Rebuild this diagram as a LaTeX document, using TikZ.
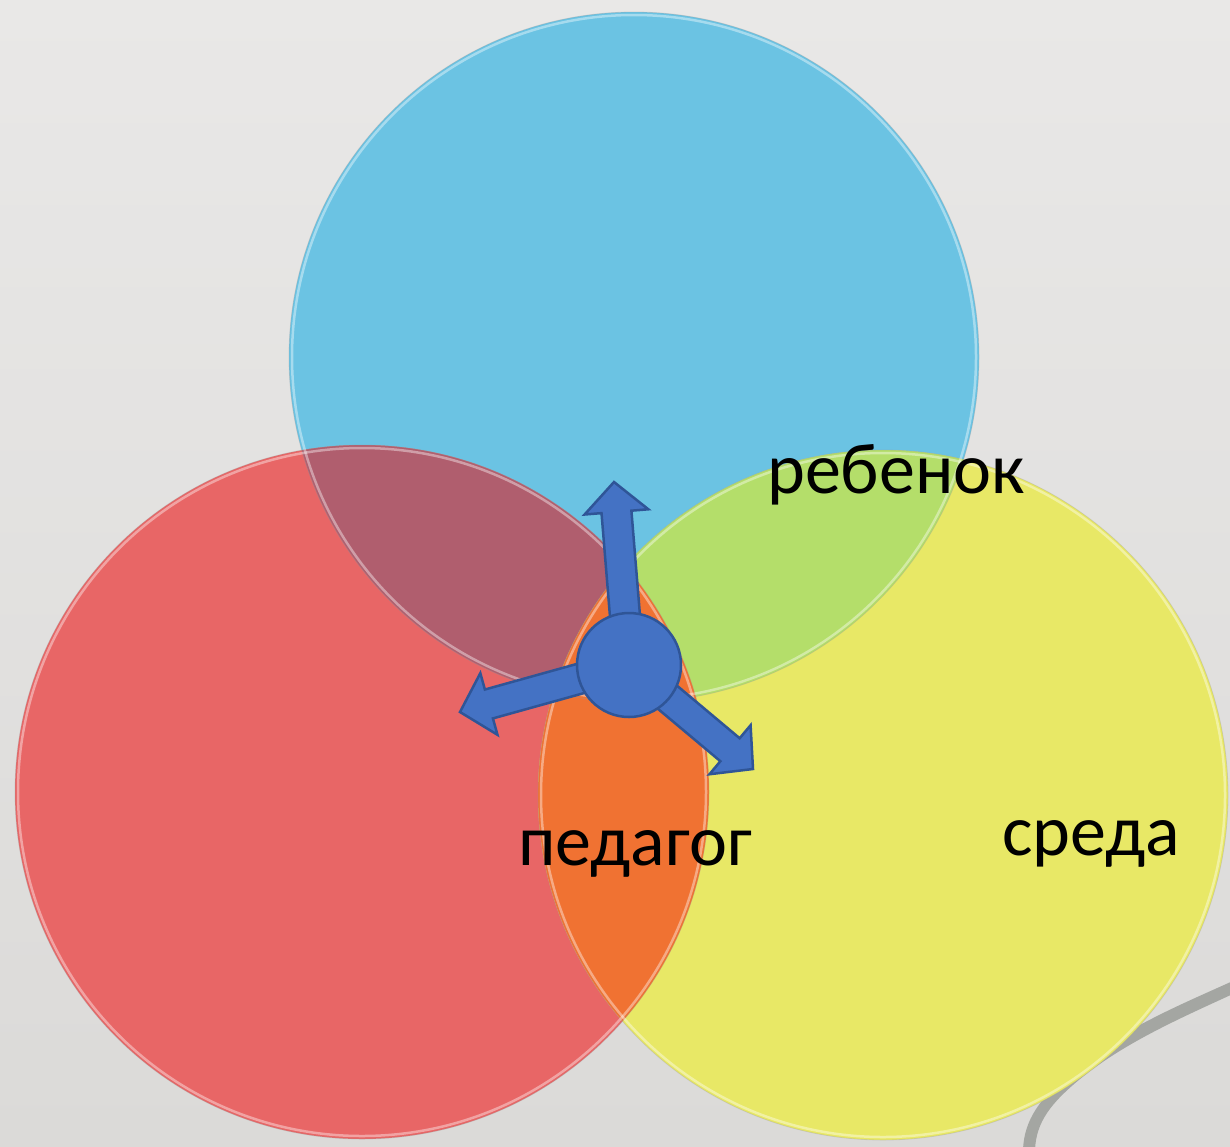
\documentclass[tikz,border=0pt]{standalone}
\usepackage{fontspec}
\setmainfont{Carlito}
\usetikzlibrary{calc}
\definecolor{bgtop}{HTML}{E9E8E7}
\definecolor{bgbot}{HTML}{DBDAD8}
\definecolor{cblue}{HTML}{6BC3E3}
\definecolor{cred}{HTML}{E86666}
\definecolor{cyellow}{HTML}{E8E866}
\definecolor{cpurple}{HTML}{B05E6E}
\definecolor{cgreen}{HTML}{B4DE6A}
\definecolor{corange}{HTML}{F07232}
\definecolor{hubfill}{HTML}{4472C4}
\definecolor{hubline}{HTML}{2F5597}
\definecolor{stem}{HTML}{A4A6A2}
\tikzset{
  rim/.style={draw=white, draw opacity=0.4, line width=2.5pt},
  outerrim/.style={draw=black!40, draw opacity=0.3, line width=0.8pt},
  hubstyle/.style={fill=hubfill, draw=hubline, line width=2.5pt},
  label/.style={font=\fontsize{72}{80}\selectfont, text=black, inner sep=0pt, anchor=base west},
  plant/.style={fill=stem, draw=none},
}
\newcommand{\blockarrow}[2]{%
  \coordinate (hb) at ($(#2)!30pt!(#1)$);
  \draw[hubstyle, line join=miter]
    ($(#1)!15pt!90:(#2)$) -- ($(hb)!15pt!90:(#2)$) -- ($(hb)!32pt!90:(#2)$) -- (#2)
    -- ($(hb)!32pt!-90:(#2)$) -- ($(hb)!15pt!-90:(#2)$) -- ($(#1)!15pt!-90:(#2)$) -- cycle;
}
\begin{document}
\begin{tikzpicture}[x=1pt, y=-1pt]
\useasboundingbox (0,0) rectangle (1230,1146);
\shade[top color=bgtop, bottom color=bgbot] (0,0) rectangle (1230,1146);
% faint plant stem behind
\path[plant] (1235,980) .. controls (1180,1005) and (1118,1030) .. (1071,1072)
  .. controls (1040,1098) and (1024,1120) .. (1023,1150) -- (1035,1150)
  .. controls (1036,1122) and (1051,1103) .. (1080,1079)
  .. controls (1125,1042) and (1183,1017) .. (1235,993) -- cycle;
% circle centres
\coordinate (cb) at (634,357);
\coordinate (cr) at (362,792);
\coordinate (cy) at (883,795);
% base fills
\fill[cblue] (cb) circle (345);
\fill[cred] (cr) circle (347);
\fill[cyellow] (cy) circle (345);
% overlaps
\begin{scope}
  \clip (cb) circle (345);
  \fill[cpurple] (cr) circle (347);
  \fill[cgreen] (cy) circle (345);
\end{scope}
\begin{scope}
  \clip (cr) circle (347);
  \fill[corange] (cy) circle (345);
\end{scope}
% glassy rims
\draw[outerrim] (cb) circle (345);
\draw[outerrim] (cr) circle (347);
\draw[outerrim] (cy) circle (345);
\draw[rim] (cb) circle (342);
\draw[rim] (cr) circle (344);
\draw[rim] (cy) circle (342);
% hub with three arrows
\coordinate (hubc) at (629,665);
\coordinate (tipU) at (614,482);
\coordinate (tipL) at (460,712);
\coordinate (tipR) at (753,769);
\blockarrow{hubc}{tipU}
\blockarrow{hubc}{tipL}
\blockarrow{hubc}{tipR}
\node[hubstyle, circle, minimum size=104pt, inner sep=0pt] (hub) at (hubc) {};
% labels
\node[label] (child) at (767,493) {ребенок};
\node[label] (teacher) at (518,865) {педагог};
\node[label] (env) at (1002,855) {среда};
\end{tikzpicture}
\end{document}
